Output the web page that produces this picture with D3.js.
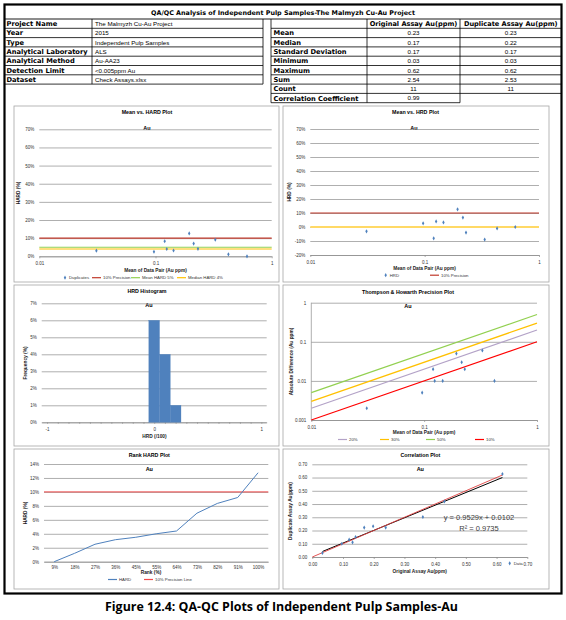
<!DOCTYPE html>
<html>
<head>
<meta charset="utf-8">
<script src="https://cdn.jsdelivr.net/npm/d3@7"></script>
<style>
body { margin: 0; background: #fff; }
svg { display: block; font-family: "Liberation Sans", Arial, sans-serif; }
.tb { font-family: "DejaVu Sans", Verdana, sans-serif; font-weight: bold; }
</style>
</head>
<body>
<svg width="566" height="620"></svg>
<script>
// table contents
var reportTitle = "QA/QC Analysis of Independent Pulp Samples-The Malmyzh Cu-Au Project";
var infoLabels = ["Project Name", "Year", "Type", "Analytical Laboratory", "Analytical Method", "Detection Limit", "Dataset"];
var infoValues = ["The Malmyzh Cu-Au Project", "2015", "Independent Pulp Samples", "ALS", "Au-AA23", "<0.005ppm Au", "Check Assays.xlsx"];
var statHeaders = ["Original Assay Au(ppm)", "Duplicate Assay Au(ppm)"];
var statLabels = ["Mean", "Median", "Standard Deviation", "Minimum", "Maximum", "Sum", "Count", "Correlation Coefficient"];
var statOrig = ["0.23", "0.17", "0.17", "0.03", "0.62", "2.54", "11", "0.99"];
var statDup = ["0.23", "0.22", "0.17", "0.03", "0.62", "2.53", "11", ""];

// Mean vs HARD
var hardMean = [0.031, 0.097, 0.12, 0.125, 0.143, 0.195, 0.213, 0.232, 0.327, 0.424, 0.613];
var hardPct = [3.1, 2.5, 8.3, 4.0, 3.2, 12.6, 7.0, 4.1, 9.1, 1.1, 0.0];
var hardRefValues = [10, 5, 4];
var hardRefNames = ["10% Precision", "Mean HARD 5%", "Median HARD 4%"];
var pctTicksA = [0, 10, 20, 30, 40, 50, 60, 70];

// Mean vs HRD
var hrdMean = [0.031, 0.097, 0.12, 0.126, 0.146, 0.194, 0.216, 0.23, 0.335, 0.43, 0.62];
var hrdPct = [-3.1, 2.6, -8.1, 4.0, 3.3, 12.6, 6.7, -4.0, -9.0, -1.0, 0.0];
var hrdPrecision = 10;
var pctTicksB = [-20, -10, 0, 10, 20, 30, 40, 50, 60, 70];

// HRD histogram
var histCenters = [0, 0.1, 0.2];
var histFreq = [6, 4, 1];
var histYTicks = [0, 1, 2, 3, 4, 5, 6, 7];

// Thompson & Howarth
var thMean = [0.031, 0.096, 0.12, 0.124, 0.146, 0.193, 0.215, 0.229, 0.328, 0.42];
var thDiff = [0.002, 0.005, 0.02, 0.01, 0.01, 0.05, 0.03, 0.02, 0.06, 0.01];
var thPrecision = [0.2, 0.3, 0.5, 0.1];
var thNames = ["20%", "30%", "50%", "10%"];

// Rank HARD
var rankLabels = ["9%", "18%", "27%", "36%", "45%", "55%", "64%", "73%", "82%", "91%", "100%"];
var rankHard = [0, 1.2, 2.5, 3.15, 3.5, 4.0, 4.4, 6.95, 8.35, 9.2, 12.75];
var rankPrecision = 10;
var rankYTicks = [0, 2, 4, 6, 8, 10, 12, 14];

// Correlation
var origAssay = [0.033, 0.096, 0.12, 0.131, 0.141, 0.169, 0.198, 0.239, 0.36, 0.43, 0.619];
var dupAssay = [0.030, 0.100, 0.131, 0.111, 0.151, 0.222, 0.232, 0.222, 0.302, 0.42, 0.627];
var trendSlope = 0.9529, trendIntercept = 0.0102, rSquared = 0.9735;
var corrTicks = [0, 0.1, 0.2, 0.3, 0.4, 0.5, 0.6, 0.7];

var caption = "Figure 12.4: QA-QC Plots of Independent Pulp Samples-Au";

var svg = d3.select("svg");
var blue = "#4F81BD";
var gridColor = "#8c8c8c";
var marker = d3.symbol().type(d3.symbolDiamond).size(5);

// ---------- tables ----------
var rowH = 9.3, top0 = 19;

svg.append("text").attr("class", "tb").attr("x", 283).attr("y", 14.5).attr("text-anchor", "middle")
  .attr("font-size", 6.4).text(reportTitle);
svg.append("line").attr("x1", 4.5).attr("x2", 561.5).attr("y1", top0).attr("y2", top0)
  .attr("stroke", "#000").attr("stroke-width", 0.9);

var tbl = svg.append("g").attr("stroke", "#000").attr("stroke-width", 0.8);
// left table
infoLabels.forEach(function(d, i) {
  var y = top0 + rowH * (i + 1);
  tbl.append("line").attr("x1", 4.5).attr("x2", 263).attr("y1", y).attr("y2", y);
  svg.append("text").attr("class", "tb").attr("x", 6.5).attr("y", y - 2.2).attr("font-size", 6.7).text(d);
  svg.append("text").attr("x", 95).attr("y", y - 2.3).attr("font-size", 6.2).text(infoValues[i]);
});
tbl.append("line").attr("x1", 92).attr("x2", 92).attr("y1", top0).attr("y2", top0 + rowH * 7);
tbl.append("line").attr("x1", 263).attr("x2", 263).attr("y1", top0).attr("y2", top0 + rowH * 7);

// right table
var colX = [271, 367, 460, 561.5];
statHeaders.forEach(function(d, i) {
  svg.append("text").attr("class", "tb").attr("x", (colX[i + 1] + colX[i + 2]) / 2).attr("y", top0 + rowH - 2.2)
    .attr("text-anchor", "middle").attr("font-size", 6.6).text(d);
});
tbl.append("line").attr("x1", colX[0]).attr("x2", 561.5).attr("y1", top0 + rowH).attr("y2", top0 + rowH);
statLabels.forEach(function(d, i) {
  var y = top0 + rowH * (i + 2);
  tbl.append("line").attr("x1", colX[0]).attr("x2", statDup[i] === "" ? colX[2] : 561.5)
    .attr("y1", y).attr("y2", y);
  svg.append("text").attr("class", "tb").attr("x", colX[0] + 2.5).attr("y", y - 2.2)
    .attr("font-size", 6.7).text(d);
  svg.append("text").attr("x", (colX[1] + colX[2]) / 2).attr("y", y - 2.3)
    .attr("text-anchor", "middle").attr("font-size", 6.2).text(statOrig[i]);
  svg.append("text").attr("x", (colX[2] + colX[3]) / 2).attr("y", y - 2.3)
    .attr("text-anchor", "middle").attr("font-size", 6.2).text(statDup[i]);
});
[0, 1, 2].forEach(function(c) {
  tbl.append("line").attr("x1", colX[c]).attr("x2", colX[c])
    .attr("y1", top0).attr("y2", top0 + rowH * 9);
});

// outer frame
svg.append("rect").attr("x", 4.5).attr("y", 4.5).attr("width", 557).attr("height", 589)
  .attr("fill", "none").attr("stroke", "#000").attr("stroke-width", 2.2);

svg.append("text").attr("x", 281.5).attr("y", 611).attr("text-anchor", "middle")
  .attr("font-family", "'Open Sans', 'Noto Sans', sans-serif")
  .attr("font-size", 11.5).attr("font-weight", "bold")
  .attr("textLength", 353).attr("lengthAdjust", "spacingAndGlyphs").text(caption);

// ---------- chart helpers ----------
function panel(x0, y0, x1, y1) {
  svg.append("rect").attr("x", x0).attr("y", y0).attr("width", x1 - x0).attr("height", y1 - y0)
    .attr("fill", "#fff").attr("stroke", "#a6a6a6").attr("stroke-width", 0.8);
}
function titles(cx, yTitle, text) {
  svg.append("text").attr("x", cx).attr("y", yTitle).attr("text-anchor", "middle")
    .attr("font-size", 5.3).attr("font-weight", "bold").text(text);
}
function auLabel(cx, y) {
  svg.append("text").attr("x", cx).attr("y", y).attr("text-anchor", "middle")
    .attr("font-size", 5.5).attr("font-weight", "bold").text("Au");
}
function styleAxis(sel) {
  sel.attr("font-size", 4.5).attr("font-family", null);
  sel.selectAll("line").attr("stroke", gridColor).attr("stroke-width", 0.7);
  sel.selectAll("text").attr("fill", "#333");
  sel.select(".domain").attr("stroke", gridColor).attr("stroke-width", 0.7);
}
function yGrid(scale, x0, x1, ticks, fmt) {
  var g = svg.append("g").attr("transform", "translate(" + x0 + ",0)")
    .call(d3.axisLeft(scale).tickValues(ticks).tickFormat(fmt).tickSize(-(x1 - x0)).tickPadding(5));
  styleAxis(g);
  g.select(".domain").remove();
  return g;
}
function xAxis(scale, y0, ticks, fmt, size) {
  var g = svg.append("g").attr("transform", "translate(0," + y0 + ")")
    .call(d3.axisBottom(scale).tickValues(ticks).tickFormat(fmt)
      .tickSize(size).tickSizeOuter(0).tickPadding(5.5 - size));
  styleAxis(g);
  return g;
}
function axisTitle(x, y, text, rotate) {
  var t = svg.append("text").attr("text-anchor", "middle").attr("font-size", 4.8)
    .attr("font-weight", "bold").attr("fill", "#222").text(text);
  if (rotate) t.attr("transform", "translate(" + x + "," + y + ") rotate(-90)");
  else t.attr("x", x).attr("y", y);
}
function legendLine(x, y, color, text) {
  svg.append("line").attr("x1", x).attr("x2", x + 9).attr("y1", y).attr("y2", y)
    .attr("stroke", color).attr("stroke-width", 1.2);
  svg.append("text").attr("x", x + 11).attr("y", y + 1.6).attr("font-size", 4.3)
    .attr("fill", "#333").text(text);
}
function legendMarker(x, y, text) {
  svg.append("path").attr("d", marker).attr("fill", blue)
    .attr("transform", "translate(" + x + "," + y + ")");
  svg.append("text").attr("x", x + 4).attr("y", y + 1.6).attr("font-size", 4.3)
    .attr("fill", "#333").text(text);
}
function points(xs, ys, xScale, yScale) {
  svg.append("g").selectAll("path").data(xs).enter().append("path")
    .attr("d", marker).attr("fill", blue)
    .attr("transform", function(d, i) { return "translate(" + xScale(d) + "," + yScale(ys[i]) + ")"; });
}
var pctFmt = function(d) { return d + "%"; };
var logFmt = function(d) { return String(d); };

// ---------- Mean vs HARD ----------
panel(14, 106, 279, 282);
titles(147, 114, "Mean vs. HARD Plot");
auLabel(147, 130);
var xA = d3.scaleLog().domain([0.01, 1]).range([39.3, 271.7]);
var yA = d3.scaleLinear().domain([0, 70]).range([256.3, 129.3]);
yGrid(yA, 39.3, 271.7, pctTicksA, pctFmt);
xAxis(xA, 256.3, [0.01, 0.1, 1], logFmt, 2);
var refColorsA = ["#C0392B", "#92D050", "#FFC000"];
hardRefValues.forEach(function(v, i) {
  svg.append("line").attr("x1", xA(0.01)).attr("x2", xA(1)).attr("y1", yA(v)).attr("y2", yA(v))
    .attr("stroke", refColorsA[i]).attr("stroke-width", 1.1);
});
points(hardMean, hardPct, xA, yA);
axisTitle(19.5, 193, "HARD (%)", true);
axisTitle(155.5, 271.5, "Mean of Data Pair (Au ppm)");
legendMarker(65, 277.7, "Duplicates");
legendLine(92, 277.7, refColorsA[0], hardRefNames[0]);
legendLine(131, 277.7, refColorsA[1], hardRefNames[1]);
legendLine(177, 277.7, refColorsA[2], hardRefNames[2]);

// ---------- Mean vs HRD ----------
panel(283, 106, 549, 282);
titles(415.5, 114, "Mean vs. HRD Plot");
auLabel(414, 130);
var xB = d3.scaleLog().domain([0.01, 1]).range([310.3, 539]);
var yB = d3.scaleLinear().domain([-20, 70]).range([255, 129]);
yGrid(yB, 310.3, 539, pctTicksB, pctFmt);
xAxis(xB, 255, [0.01, 0.1, 1], logFmt, 2);
svg.append("line").attr("x1", xB(0.01)).attr("x2", xB(1)).attr("y1", yB(0)).attr("y2", yB(0))
  .attr("stroke", "#FFD966").attr("stroke-width", 2.2);
svg.append("line").attr("x1", xB(0.01)).attr("x2", xB(1))
  .attr("y1", yB(hrdPrecision)).attr("y2", yB(hrdPrecision))
  .attr("stroke", "#C0392B").attr("stroke-width", 1.1);
points(hrdMean, hrdPct, xB, yB);
axisTitle(290.5, 192, "HRD (%)", true);
axisTitle(424.5, 269.5, "Mean of Data Pair (Au ppm)");
legendMarker(385.7, 275.2, "HRD");
legendLine(430, 275.2, "#C0392B", "10% Precision");

// ---------- HRD Histogram ----------
panel(14, 285, 279, 446);
titles(147, 293, "HRD Histogram");
auLabel(149, 307);
var xC = d3.scaleLinear().domain([-1.05, 1.05]).range([41.7, 266.7]);
var yC = d3.scaleLinear().domain([0, 7]).range([422.3, 303.3]);
yGrid(yC, 41.7, 266.7, histYTicks, pctFmt);
var histTicks = d3.range(-10, 11).map(function(k) { return k / 10; });
xAxis(xC, 422.3, histTicks, function(d) {
  return (d === -1 || d === 0 || d === 1) ? String(d) : "";
}, 1.5);
svg.append("g").selectAll("rect").data(histCenters).enter().append("rect")
  .attr("x", function(d) { return xC(d - 0.05); })
  .attr("width", function(d) { return xC(d + 0.05) - xC(d - 0.05); })
  .attr("y", function(d, i) { return yC(histFreq[i]); })
  .attr("height", function(d, i) { return yC(0) - yC(histFreq[i]); })
  .attr("fill", blue).attr("stroke", blue).attr("stroke-width", 0.3);
axisTitle(27, 363, "Frequency (%)", true);
axisTitle(154.5, 437.5, "HRD (/100)");

// ---------- Thompson & Howarth ----------
panel(283, 285, 549, 446);
titles(408, 293.5, "Thompson & Howarth Precision Plot");
auLabel(408, 308);
var xD = d3.scaleLog().domain([0.01, 1]).range([311.3, 537]);
var yD = d3.scaleLog().domain([0.001, 1]).range([420, 302.7]);
yGrid(yD, 311.3, 537, [0.001, 0.01, 0.1, 1], logFmt);
xAxis(xD, 420, [0.01, 0.1, 1], logFmt, 2);
svg.append("line").attr("x1", 311.3).attr("x2", 311.3).attr("y1", 302.7).attr("y2", 420)
  .attr("stroke", gridColor).attr("stroke-width", 0.7);
var thColors = ["#B3A2C7", "#FFC000", "#92D050", "#FF0000"];
thPrecision.forEach(function(p, i) {
  svg.append("line").attr("x1", xD(0.01)).attr("x2", xD(1))
    .attr("y1", yD(p * 0.01)).attr("y2", yD(p * 1))
    .attr("stroke", thColors[i]).attr("stroke-width", 1.2);
});
points(thMean, thDiff, xD, yD);
axisTitle(292.5, 361.5, "Absolute Difference (Au ppm)", true);
axisTitle(424, 434, "Mean of Data Pair (Au ppm)");
var thLegX = [338, 380, 426, 475];
thNames.forEach(function(n, i) { legendLine(thLegX[i], 439.5, thColors[i], n); });

// ---------- Rank HARD ----------
panel(14, 449, 279, 589);
titles(149.3, 456.5, "Rank HARD Plot");
auLabel(149.3, 471);
var xE = d3.scalePoint().domain(rankLabels).range([44, 268.3]).padding(0.5);
var yE = d3.scaleLinear().domain([0, 14]).range([561.7, 464]);
yGrid(yE, 44, 268.3, rankYTicks, pctFmt);
var gE = svg.append("g").attr("transform", "translate(0,561.7)")
  .call(d3.axisBottom(xE).tickSize(0).tickPadding(4));
styleAxis(gE);
svg.append("line").attr("x1", 44).attr("x2", 268.3)
  .attr("y1", yE(rankPrecision)).attr("y2", yE(rankPrecision))
  .attr("stroke", "#F04A4A").attr("stroke-width", 1);
svg.append("path").datum(rankHard)
  .attr("d", d3.line().x(function(d, i) { return xE(rankLabels[i]); }).y(function(d) { return yE(d); }))
  .attr("fill", "none").attr("stroke", blue).attr("stroke-width", 1);
axisTitle(27, 513, "HARD (%)", true);
axisTitle(151, 573.5, "Rank (%)");
legendLine(108, 579.5, blue, "HARD");
legendLine(144, 579.5, "#F04A4A", "10% Precision Line");

// ---------- Correlation ----------
panel(283, 449, 549, 589);
titles(420.3, 457, "Correlation Plot");
auLabel(420.3, 471.3);
var xF = d3.scaleLinear().domain([0, 0.7]).range([312.3, 527.3]);
var yF = d3.scaleLinear().domain([0, 0.7]).range([557, 464.3]);
yGrid(yF, 312.3, 527.3, corrTicks, d3.format(".2f"));
xAxis(xF, 557, corrTicks, d3.format(".2f"), 2);
var xMax = d3.max(origAssay), xMin = d3.min(origAssay);
svg.append("line").attr("x1", xF(xMin)).attr("x2", xF(xMax))
  .attr("y1", yF(trendSlope * xMin + trendIntercept)).attr("y2", yF(trendSlope * xMax + trendIntercept))
  .attr("stroke", "#000").attr("stroke-width", 1);
svg.append("line").attr("x1", xF(0)).attr("x2", xF(xMax))
  .attr("y1", yF(0)).attr("y2", yF(xMax))
  .attr("stroke", "#E04040").attr("stroke-width", 0.9);
points(origAssay, dupAssay, xF, yF);
svg.append("text").attr("x", 479).attr("y", 520).attr("text-anchor", "middle")
  .attr("font-size", 7.5).attr("fill", "#404040")
  .text("y = " + trendSlope + "x + " + trendIntercept);
svg.append("text").attr("x", 479).attr("y", 530.5).attr("text-anchor", "middle")
  .attr("font-size", 7.5).attr("fill", "#404040")
  .text("R\u00B2 = " + rSquared);
axisTitle(291.5, 511, "Duplicate Assay Au(ppm)", true);
axisTitle(419.7, 573, "Original Assay Au(ppm)");
legendMarker(509.7, 563.3, "Data");
</script>
</body>
</html>
